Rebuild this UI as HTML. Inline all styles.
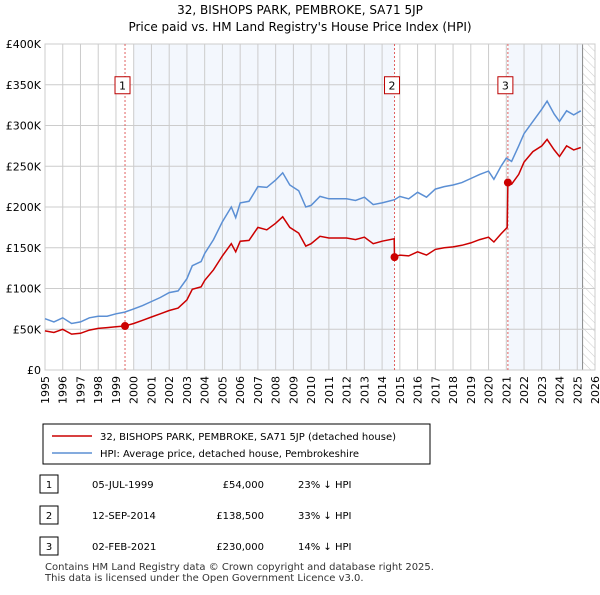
<!DOCTYPE html>
<html><head><meta charset="utf-8"><style>
body{margin:0;background:#fff;font-family:"Liberation Sans",sans-serif;}
svg text{font-family:"DejaVu Sans","Liberation Sans",sans-serif;}
</style></head><body>
<svg id="c" width="600" height="590" xmlns="http://www.w3.org/2000/svg">
<defs><pattern id="h" width="6" height="6" patternUnits="userSpaceOnUse" patternTransform="rotate(-45)"><line x1="0" y1="0" x2="0" y2="6" stroke="#ccc" stroke-width="1"/></pattern></defs>
<text x="300" y="14" text-anchor="middle" font-size="12">32, BISHOPS PARK, PEMBROKE, SA71 5JP</text>
<text x="300" y="31" text-anchor="middle" font-size="12">Price paid vs. HM Land Registry's House Price Index (HPI)</text>
<g id="plot"></g>
<rect x="43" y="424" width="387" height="40" fill="#fff" stroke="#000"/>
<line x1="52" y1="436" x2="92" y2="436" stroke="#cc0000" stroke-width="1.5"/>
<text x="100" y="440" font-size="10">32, BISHOPS PARK, PEMBROKE, SA71 5JP (detached house)</text>
<line x1="52" y1="453" x2="92" y2="453" stroke="#5b8fd4" stroke-width="1.5"/>
<text x="100" y="457" font-size="10">HPI: Average price, detached house, Pembrokeshire</text>
<g font-size="10">
<rect x="40" y="475" width="18" height="18" fill="#fff" stroke="#000"/><text x="49" y="488" text-anchor="middle">1</text>
<text x="92" y="488">05-JUL-1999</text><text x="264" y="488" text-anchor="end">£54,000</text><text x="298" y="488">23% ↓ HPI</text>
<rect x="40" y="506" width="18" height="18" fill="#fff" stroke="#000"/><text x="49" y="519" text-anchor="middle">2</text>
<text x="92" y="519">12-SEP-2014</text><text x="264" y="519" text-anchor="end">£138,500</text><text x="298" y="519">33% ↓ HPI</text>
<rect x="40" y="537" width="18" height="18" fill="#fff" stroke="#000"/><text x="49" y="550" text-anchor="middle">3</text>
<text x="92" y="550">02-FEB-2021</text><text x="264" y="550" text-anchor="end">£230,000</text><text x="298" y="550">14% ↓ HPI</text>
</g>
<text x="45" y="570" font-size="10" fill="#333">Contains HM Land Registry data © Crown copyright and database right 2025.</text>
<text x="45" y="581" font-size="10" fill="#333">This data is licensed under the Open Government Licence v3.0.</text>
</svg>
<script>
const hpiYears=[1995,1995.5,1996,1996.5,1997,1997.5,1998,1998.5,1999,1999.5,2000,2000.5,2001,2001.5,2002,2002.5,2003,2003.3,2003.8,2004,2004.5,2005,2005.5,2005.75,2006,2006.5,2007,2007.5,2008,2008.4,2008.8,2009.3,2009.7,2010,2010.5,2011,2011.5,2012,2012.5,2013,2013.5,2014,2014.7,2015,2015.5,2016,2016.5,2017,2017.5,2018,2018.5,2019,2019.5,2020,2020.3,2020.7,2021,2021.3,2021.7,2022,2022.5,2023,2023.3,2023.7,2024,2024.4,2024.8,2025.2];
const hpiValues=[63,59,64,57,59,64,66,66,69,71,75,79,84,89,95,97,112,128,133,143,160,182,200,187,205,207,225,224,233,242,227,220,200,202,213,210,210,210,208,212,203,205,209,213,210,218,212,222,225,227,230,235,240,244,234,250,260,256,275,290,305,320,330,314,305,318,313,318];
const ppYears=[1995,1995.5,1996,1996.5,1997,1997.5,1998,1998.5,1999,1999.5,2000,2000.5,2001,2001.5,2002,2002.5,2003,2003.3,2003.8,2004,2004.5,2005,2005.5,2005.75,2006,2006.5,2007,2007.5,2008,2008.4,2008.8,2009.3,2009.7,2010,2010.5,2011,2011.5,2012,2012.5,2013,2013.5,2014,2014.68,2014.7,2015,2015.5,2016,2016.5,2017,2017.5,2018,2018.5,2019,2019.5,2020,2020.3,2020.7,2021.05,2021.09,2021.3,2021.7,2022,2022.5,2023,2023.3,2023.7,2024,2024.4,2024.8,2025.2];
const ppValues=[48,46,50,44,45,49,51,52,53,54,57,61,65,69,73,76,86,99,102,110,123,140,155,145,158,159,175,172,180,188,175,168,152,155,164,162,162,162,160,163,155,158,161,138.5,141,140,145,141,148,150,151,153,156,160,163,157,167,175,230,228,240,255,268,275,283,270,262,275,270,273];
const saleYears=[1999.51,2014.7,2021.09];
const saleValues=[54,138.5,230];
const saleLabels=["1","2","3"];
const yTicks=[0,50,100,150,200,250,300,350,400];
const yTickLabels=["£0","£50K","£100K","£150K","£200K","£250K","£300K","£350K","£400K"];
const xTicks=[1995,1996,1997,1998,1999,2000,2001,2002,2003,2004,2005,2006,2007,2008,2009,2010,2011,2012,2013,2014,2015,2016,2017,2018,2019,2020,2021,2022,2023,2024,2025,2026];
const L=45,R=595,T=44,B=370;
const X=y=>L+(y-1995)/(2026-1995)*(R-L);
const Y=v=>B-v/400*(B-T);
const NS="http://www.w3.org/2000/svg";
const g=document.getElementById('plot');
function mk(t,a){const e=document.createElementNS(NS,t);for(const k in a)e.setAttribute(k,a[k]);g.appendChild(e);return e;}
let e;
e=mk('rect',{x:L,y:T,width:R-L,height:B-T,fill:'#fff',stroke:'#ccc'});


e=mk('rect',{x:X(2000),y:T,width:X(saleYears[1])-X(2000),height:B-T,fill:'#eef3fc',opacity:0.7});


e=mk('rect',{x:X(saleYears[2]),y:T,width:X(2025.3)-X(saleYears[2]),height:B-T,fill:'#eef3fc',opacity:0.7});


e=mk('rect',{x:X(2025.3),y:T,width:R-X(2025.3),height:B-T,fill:'url(#h)'});


mk('line',{x1:X(2025.3),x2:X(2025.3),y1:T,y2:B,stroke:'#888'});
yTicks.forEach((v,i)=>{mk('line',{x1:L,x2:R,y1:Y(v),y2:Y(v),stroke:'#ccc'});
 const t=mk('text',{x:L-4,y:Y(v)+4,'text-anchor':'end','font-size':11});t.textContent=yTickLabels[i];
 
 });
xTicks.forEach(y=>{mk('line',{x1:X(y),x2:X(y),y1:T,y2:B,stroke:'#ccc'});
 const t=mk('text',{x:X(y)+4,y:B+6,'text-anchor':'end','font-size':11,transform:`rotate(-90 ${X(y)+4} ${B+6})`});t.textContent=y;
 
 });
saleYears.forEach((y,i)=>{mk('line',{x1:X(y),x2:X(y),y1:T,y2:B,stroke:'#e06060','stroke-dasharray':'2,2'});
 const r=mk('rect',{x:X(y)-10,y:Y(350)-8,width:15,height:17,fill:'#fff',stroke:'#b00'});r.setAttribute('x',X(y)-10);
 
 
 const t=mk('text',{x:X(y)-2.5,y:Y(350)+4.5,'text-anchor':'middle','font-size':11});t.textContent=saleLabels[i];});
function path(xs,vs,c,n){const d=xs.map((x,i)=>(i?'L':'M')+X(x).toFixed(1)+','+Y(vs[i]).toFixed(1)).join('');
 const p=mk('path',{d:d,fill:'none',stroke:c,'stroke-width':1.5});
 
 }
path(hpiYears,hpiValues,'#5b8fd4','hpi-line');
path(ppYears,ppValues,'#cc0000','price-paid-line');
saleYears.forEach((y,i)=>{const c=mk('circle',{cx:X(y),cy:Y(saleValues[i]),r:4,fill:'#cc0000'});
 
 });
</script>
</body></html>
